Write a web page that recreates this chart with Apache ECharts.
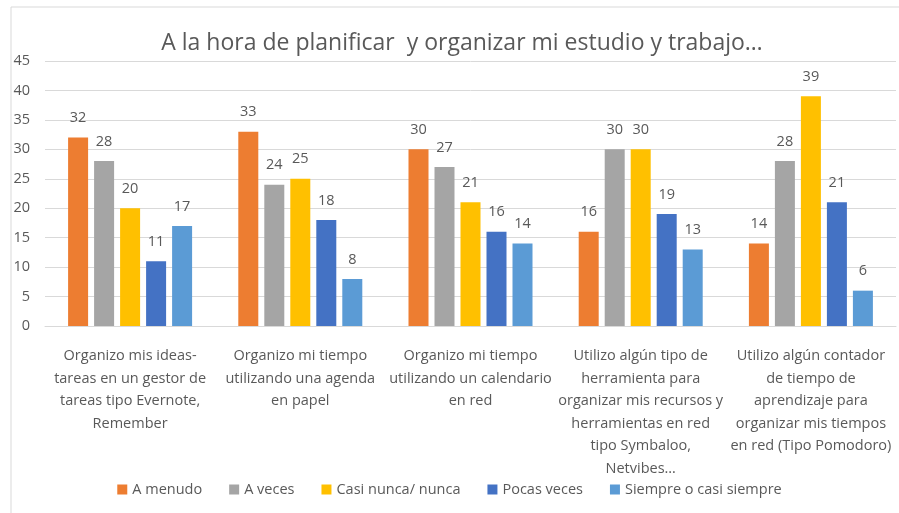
<!DOCTYPE html>
<html>
<head>
<meta charset="utf-8">
<script src="https://cdn.jsdelivr.net/npm/echarts@6/dist/echarts.min.js"></script>
<style>
html,body{margin:0;padding:0;background:#fff;}
#chart{width:899px;height:513px;}
</style>
</head>
<body>
<div id="chart"></div>
<script>
var categories = [
    'Organizo mis ideas-\ntareas en un gestor de\ntareas tipo Evernote,\nRemember',
    'Organizo mi tiempo\nutilizando una agenda\nen papel',
    'Organizo mi tiempo\nutilizando un calendario\nen red',
    'Utilizo algún tipo de\nherramienta para\norganizar mis recursos y\nherramientas en red\ntipo Symbaloo,\nNetvibes…',
    'Utilizo algún contador\nde tiempo de\naprendizaje para\norganizar mis tiempos\nen red (Tipo Pomodoro)'
];
var seriesNames = ['A menudo', 'A veces', 'Casi nunca/ nunca', 'Pocas veces', 'Siempre o casi siempre'];
var aMenudo = [32, 33, 30, 16, 14];
var aVeces = [28, 24, 27, 30, 28];
var casiNunca = [20, 25, 21, 30, 39];
var pocasVeces = [11, 18, 16, 19, 21];
var siempre = [17, 8, 14, 13, 6];
var colors = ['#ED7D31', '#A5A5A5', '#FFC000', '#4472C4', '#5B9BD5'];

var txt = '#595959';
var font = '"Open Sans", sans-serif';
var allData = [aMenudo, aVeces, casiNunca, pocasVeces, siempre];

var myChart = echarts.init(document.getElementById('chart'));
var option = {
    animation: false,
    color: colors,
    textStyle: {fontFamily: font, color: txt},
    title: {
        text: 'A la hora de planificar  y organizar mi estudio y trabajo…',
        left: 457,
        textAlign: 'center',
        top: 27,
        textStyle: {fontFamily: font, fontSize: 23, fontWeight: 'normal', color: txt}
    },
    legend: {
        data: seriesNames,
        bottom: 11,
        left: 'center',
        itemWidth: 10,
        itemHeight: 10,
        itemGap: 27,
        icon: 'rect',
        textStyle: {fontFamily: font, fontSize: 14.5, color: txt}
    },
    grid: {left: 45, right: 3, top: 61, bottom: 187, containLabel: false},
    xAxis: {
        type: 'category',
        data: categories,
        axisLine: {lineStyle: {color: '#D9D9D9'}},
        axisTick: {show: false},
        axisLabel: {
            interval: 0,
            margin: 19,
            fontFamily: font,
            fontSize: 14.5,
            lineHeight: 22.5,
            color: txt,
            align: 'center',
            verticalAlign: 'top'
        }
    },
    yAxis: {
        type: 'value',
        min: 0,
        max: 45,
        interval: 5,
        axisLine: {show: false},
        axisTick: {show: false},
        splitLine: {lineStyle: {color: '#D9D9D9'}},
        axisLabel: {fontFamily: font, fontSize: 14.5, color: txt, margin: 15}
    },
    graphic: [{
        type: 'polyline',
        shape: {points: [[11, 513], [11, 7], [899, 7]]},
        style: {stroke: '#D9D9D9', lineWidth: 1, fill: null}
    }],
    series: seriesNames.map(function (name, i) {
        return {
            name: name,
            type: 'bar',
            data: allData[i],
            barWidth: 20,
            barGap: '30%',
            label: {
                show: true,
                position: 'top',
                distance: 12,
                fontFamily: font,
                fontSize: 14.5,
                color: txt
            }
        };
    })
};
myChart.setOption(option);
</script>
</body>
</html>
